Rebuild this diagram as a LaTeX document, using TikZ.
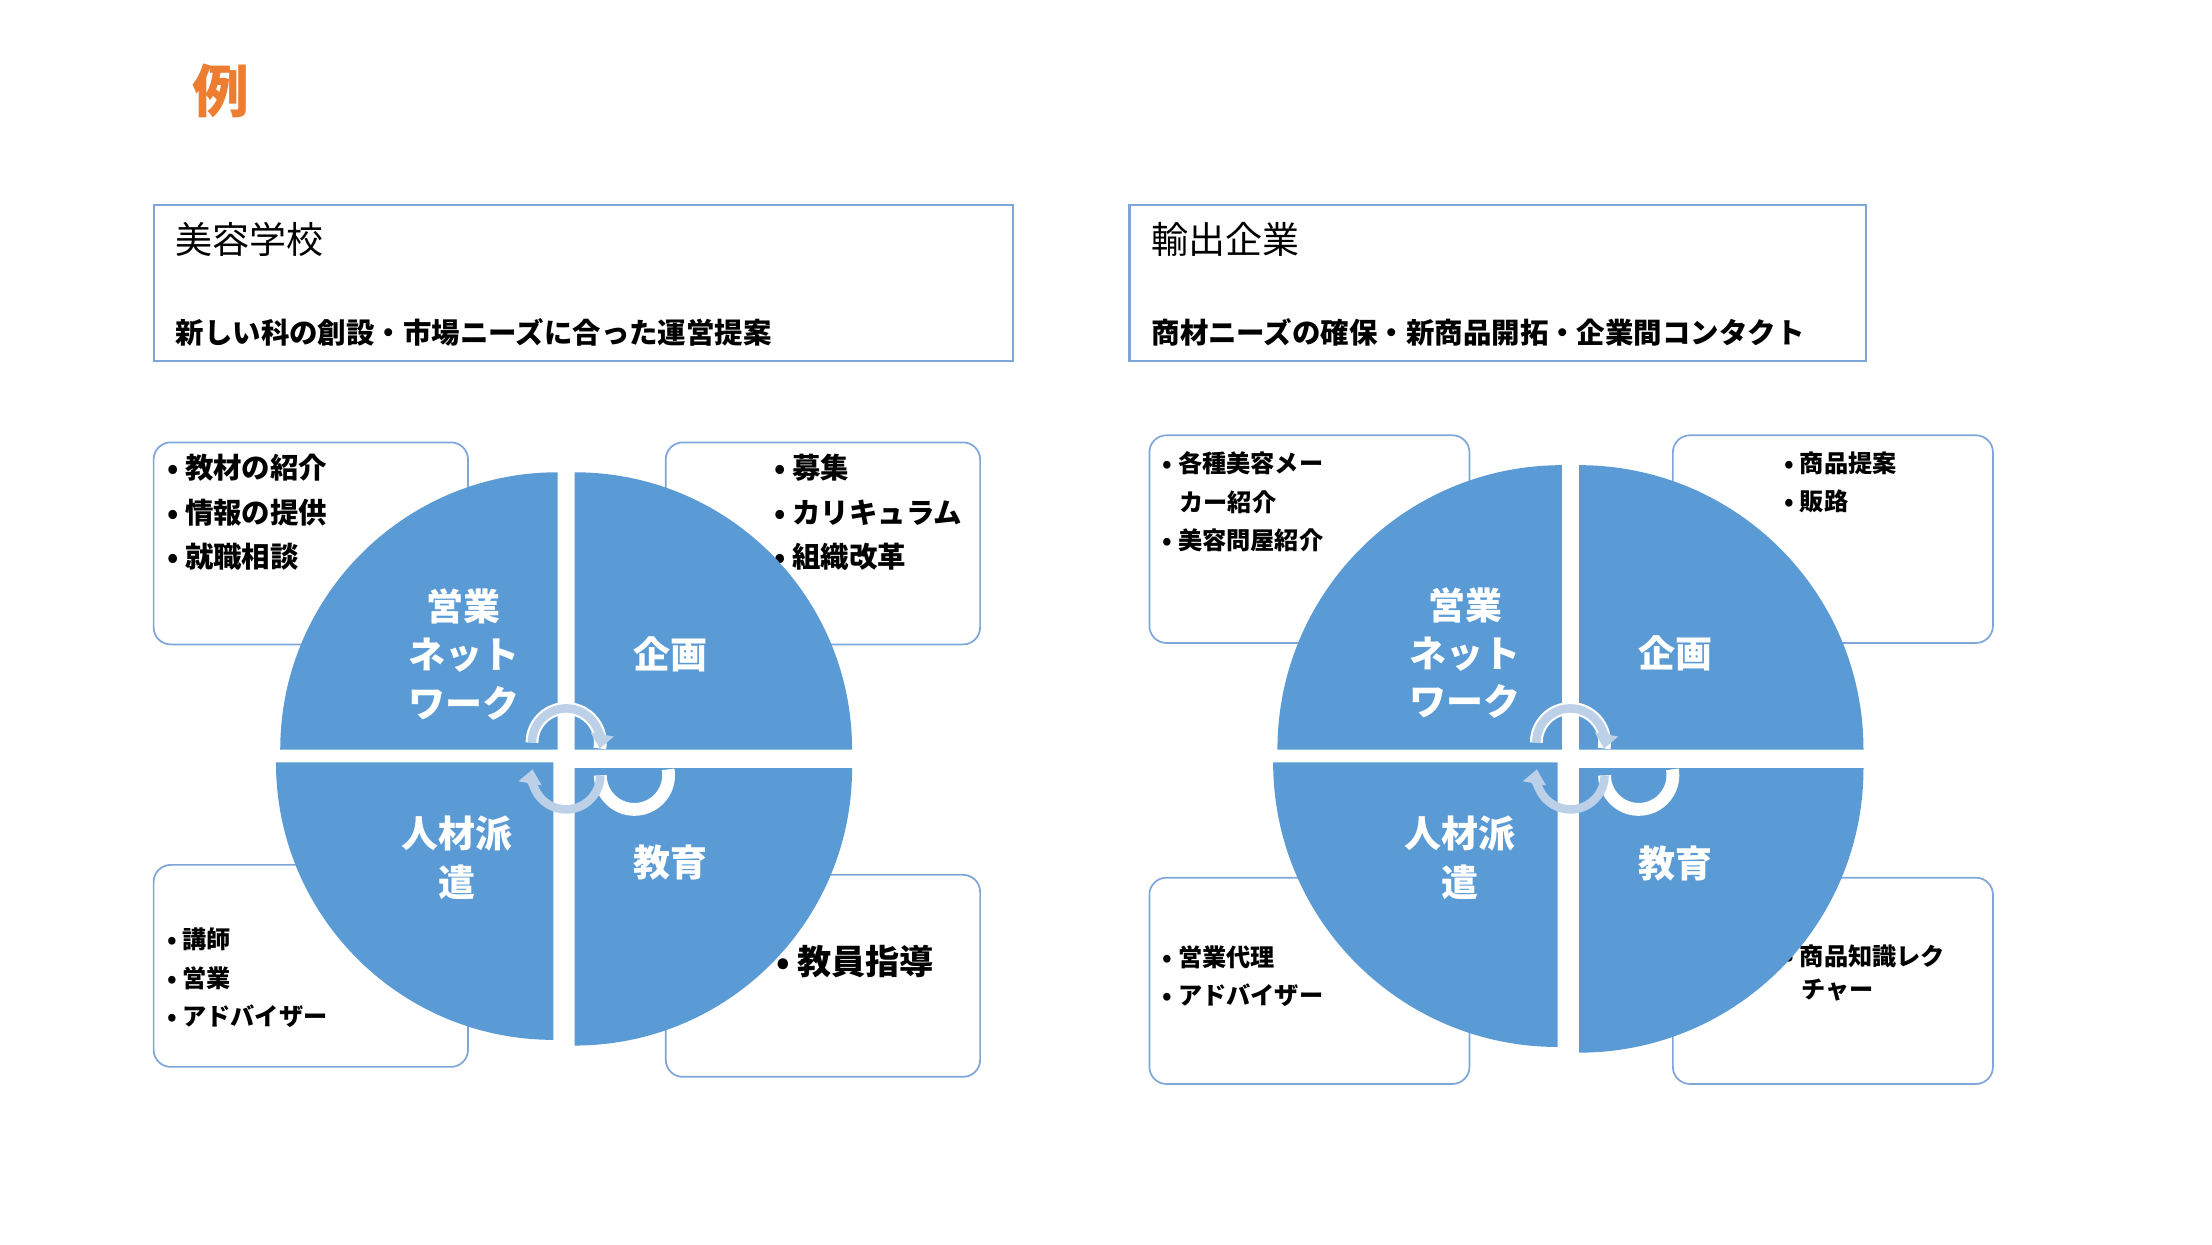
\documentclass[tikz,border=0pt]{standalone}
\usepackage{fontspec}
\setmainfont{Noto Sans CJK JP}
\usetikzlibrary{arrows.meta,calc}
\definecolor{pieblue}{HTML}{5B9BD5}
\definecolor{boxline}{HTML}{7EA6D8}
\definecolor{arcol}{HTML}{BCD0E8}
\definecolor{titleor}{HTML}{ED7D31}
\tikzset{
  cbox/.style={draw=boxline,line width=1.2pt,fill=white,rounded corners=12pt},
  hbox/.style={draw=boxline,line width=1.5pt},
  qlab/.style={text=white,font=\fontsize{26}{34}\selectfont\bfseries,align=center},
  blist/.style={anchor=north west,align=left,font=\fontsize{20}{31}\selectfont\bfseries},
  slist/.style={anchor=north west,align=left,font=\fontsize{17}{27}\selectfont\bfseries},
  cyc/.style={draw=arcol,line width=6pt,-{Triangle[length=10pt,width=16pt]}},
  cycw/.style={draw=white,line width=9pt},
}
\newcommand{\piefour}[3]{% cx, cy(negative), r
  \fill[pieblue] (#1+6,#2+6) -- ++(#3,0) arc (0:90:#3) -- cycle;
  \fill[pieblue] (#1-6,#2+6) -- ++(0,#3) arc (90:180:#3) -- cycle;
  \fill[pieblue] (#1-9,#2-3) -- ++(-#3,0) arc (180:270:#3) -- cycle;
  \fill[pieblue] (#1+6,#2-7) -- ++(0,-#3) arc (270:360:#3) -- cycle;
  \draw[cycw] (#1-24,#2+11) arc (180:-10:24);
  \draw[cyc] (#1-24,#2+11) arc (180:-10:24);
  \draw[cycw] (#1+24,#2-12) arc (0:190:-24);
  \draw[cyc] (#1+24,#2-12) arc (0:-190:24);
}
\begin{document}
\begin{tikzpicture}[x=1pt,y=1pt]
\useasboundingbox (0,0) rectangle (1555,-875);
\node[text=titleor,font=\fontsize{40}{40}\selectfont\bfseries] (title) at (155,-64) {例};
% header boxes
\draw[hbox] (108,-144) rectangle (712,-254);
\node[anchor=west,font=\fontsize{26}{30}\selectfont] (h1) at (120,-168) {美容学校};
\node[anchor=west,font=\fontsize{20}{24}\selectfont\bfseries] (h1s) at (120,-234) {新しい科の創設・市場ニーズに合った運営提案};
\draw[hbox] (794,-144) rectangle (1312,-254);
\node[anchor=west,font=\fontsize{26}{30}\selectfont] (h2) at (806,-168) {輸出企業};
\node[anchor=west,font=\fontsize{20}{24}\selectfont\bfseries] (h2s) at (806,-234) {商材ニーズの確保・新商品開拓・企業間コンタクト};
% left corner boxes
\draw[cbox] (108,-311) rectangle (329,-453);
\draw[cbox] (468,-311) rectangle (689,-453);
\draw[cbox] (108,-608) rectangle (329,-750);
\draw[cbox] (468,-615) rectangle (689,-757);
\node[blist] (l1) at (114,-316) {• 教材の紹介\\• 情報の提供\\• 就職相談};
\node[blist] (l2) at (541,-316) {• 募集\\• カリキュラム\\• 組織改革};
\node[slist] (l3) at (114,-649) {• 講師\\• 営業\\• アドバイザー};
\node[anchor=west,font=\fontsize{24}{30}\selectfont\bfseries] (l4) at (542,-676) {• 教員指導};
\piefour{398}{-533}{195}
\node[qlab] (q1) at (326,-460) {営業\\ネット\\ワーク};
\node[qlab] (q2) at (471,-460) {企画};
\node[qlab] (q3) at (321,-603) {人材派\\遣};
\node[qlab] (q4) at (471,-606) {教育};
% right corner boxes
\draw[cbox] (808,-306) rectangle (1033,-452);
\draw[cbox] (1176,-306) rectangle (1401,-452);
\draw[cbox] (808,-617) rectangle (1033,-762);
\draw[cbox] (1176,-617) rectangle (1401,-762);
\node[slist] (r1) at (814,-314) {• 各種美容メー\\\ \ \ カー紹介\\• 美容問屋紹介};
\node[slist] (r2) at (1251,-314) {• 商品提案\\• 販路};
\node[slist] (r3) at (814,-661) {• 営業代理\\• アドバイザー};
\node[slist,font=\fontsize{17}{23}\selectfont\bfseries] (r4) at (1251,-661) {• 商品知識レク\\\ \ \ チャー};
\piefour{1104}{-533}{200}
\node[qlab] (p1) at (1030,-459) {営業\\ネット\\ワーク};
\node[qlab] (p2) at (1178,-459) {企画};
\node[qlab] (p3) at (1026,-603) {人材派\\遣};
\node[qlab] (p4) at (1178,-607) {教育};
\end{tikzpicture}
\end{document}
